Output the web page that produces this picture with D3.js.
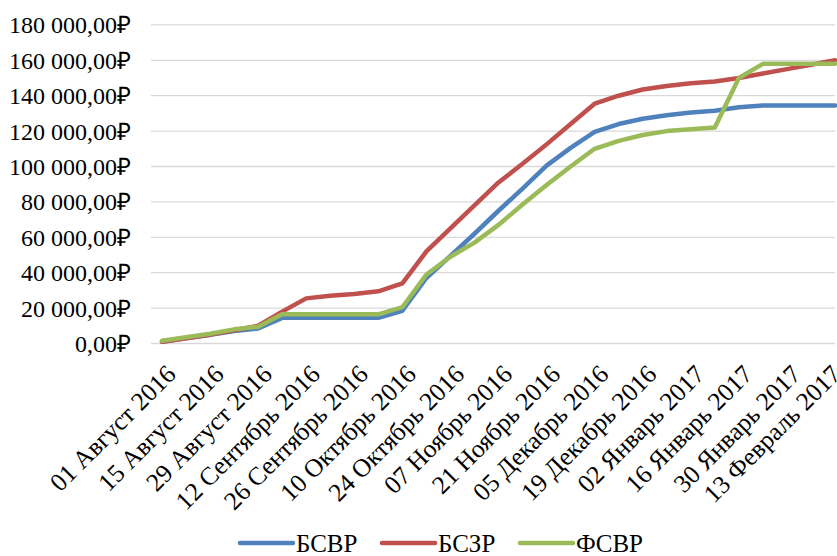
<!DOCTYPE html>
<html><head><meta charset="utf-8">
<script src="https://cdn.jsdelivr.net/npm/d3@7"></script>
<style>body{margin:0;background:#fff}svg{display:block}</style>
</head><body>
<svg id="c" width="837" height="556"></svg>
<script>
const dates = ["2016-08-01","2016-08-08","2016-08-15","2016-08-22","2016-08-29","2016-09-05","2016-09-12","2016-09-19","2016-09-26","2016-10-03","2016-10-10","2016-10-17","2016-10-24","2016-10-31","2016-11-07","2016-11-14","2016-11-21","2016-11-28","2016-12-05","2016-12-12","2016-12-19","2016-12-26","2017-01-02","2017-01-09","2017-01-16","2017-01-23","2017-01-30","2017-02-06","2017-02-13"];
const bsvr = [1000,3000,5000,7000,8500,14500,14500,14500,14500,14500,18500,37000,49500,62000,75000,87500,100500,110500,119500,124000,127000,129000,130500,131500,133500,134500,134500,134500,134500];
const bszr = [1000,3000,5000,7500,10000,18000,25500,27000,28000,29500,34000,52000,65000,78000,91000,101500,112500,124000,135500,140000,143500,145500,147000,148000,150000,152500,155000,157500,160000];
const fsvr = [1500,3500,5500,8000,9500,16500,16500,16500,16500,16500,20500,39000,49000,57000,67000,78500,89500,100000,110000,114500,117800,120000,121000,122000,150000,158000,158000,158000,158000];
const seriesNames = ["БСВР","БСЗР","ФСВР"];
const colors = ["#4f81bd","#c0504d","#9bbb59"];
const tickDates = ["2016-08-01","2016-08-15","2016-08-29","2016-09-12","2016-09-26","2016-10-10","2016-10-24","2016-11-07","2016-11-21","2016-12-05","2016-12-19","2017-01-02","2017-01-16","2017-01-30","2017-02-13"];
const tickLabels = ["01 Август 2016","15 Август 2016","29 Август 2016","12 Сентябрь 2016","26 Сентябрь 2016","10 Октябрь 2016","24 Октябрь 2016","07 Ноябрь 2016","21 Ноябрь 2016","05 Декабрь 2016","19 Декабрь 2016","02 Январь 2017","16 Январь 2017","30 Январь 2017","13 Февраль 2017"];
const yTicks = [0,20000,40000,60000,80000,100000,120000,140000,160000,180000];

const svg = d3.select("#c");
const font = "'Liberation Serif','Times New Roman',serif";
const parse = d3.utcParse("%Y-%m-%d");
const x = d3.scaleUtc().domain([parse(dates[0]), parse(dates[dates.length-1])]).range([162, 835]);
const y = d3.scaleLinear().domain([0,180000]).range([343.5, 24.9]);

const fmt = v => {
  const s = d3.format(",.2f")(v).replace(/,/g," ").replace(".",",");
  return s + "₽";
};

// gridlines
svg.append("g").selectAll("line").data(yTicks).join("line")
  .attr("x1",151).attr("x2",835).attr("y1",d=>y(d)).attr("y2",d=>y(d))
  .attr("stroke","#d9d9d9").attr("stroke-width",1.3);

// y labels
svg.append("g").selectAll("text").data(yTicks).join("text")
  .attr("x",131).attr("y",d=>y(d)).attr("dy","0.35em")
  .attr("text-anchor","end").attr("font-family",font).attr("font-size",24).attr("fill","#000")
  .text(fmt);

// x labels
svg.append("g").selectAll("text").data(tickDates).join("text")
  .attr("transform",d=>`translate(${Math.min(x(parse(d))+3, 830)},${y(0)+20}) rotate(-45)`)
  .attr("dy","0.68em").attr("text-anchor","end")
  .attr("font-family",font).attr("font-size",25.5).attr("fill","#000")
  .text((d,i)=>tickLabels[i]);

// lines
const all = [bsvr,bszr,fsvr];
const line = d3.line().x((d,i)=>x(parse(dates[i]))).y(d=>y(d));
all.forEach((s,k)=>{
  svg.append("path").datum(s).attr("d",line).attr("fill","none")
    .attr("stroke",colors[k]).attr("stroke-width",4.5)
    .attr("stroke-linejoin","round").attr("stroke-linecap","round");
});

// legend
const lx = [240,382,520];
const lg = svg.append("g");
seriesNames.forEach((n,k)=>{
  lg.append("line").attr("x1",lx[k]).attr("x2",lx[k]+53).attr("y1",543).attr("y2",543)
    .attr("stroke",colors[k]).attr("stroke-width",4.5).attr("stroke-linecap","round");
  lg.append("text").attr("x",lx[k]+56).attr("y",543).attr("dy","0.35em")
    .attr("font-family",font).attr("font-size",25).attr("fill","#000").text(n);
});
</script>
</body></html>
